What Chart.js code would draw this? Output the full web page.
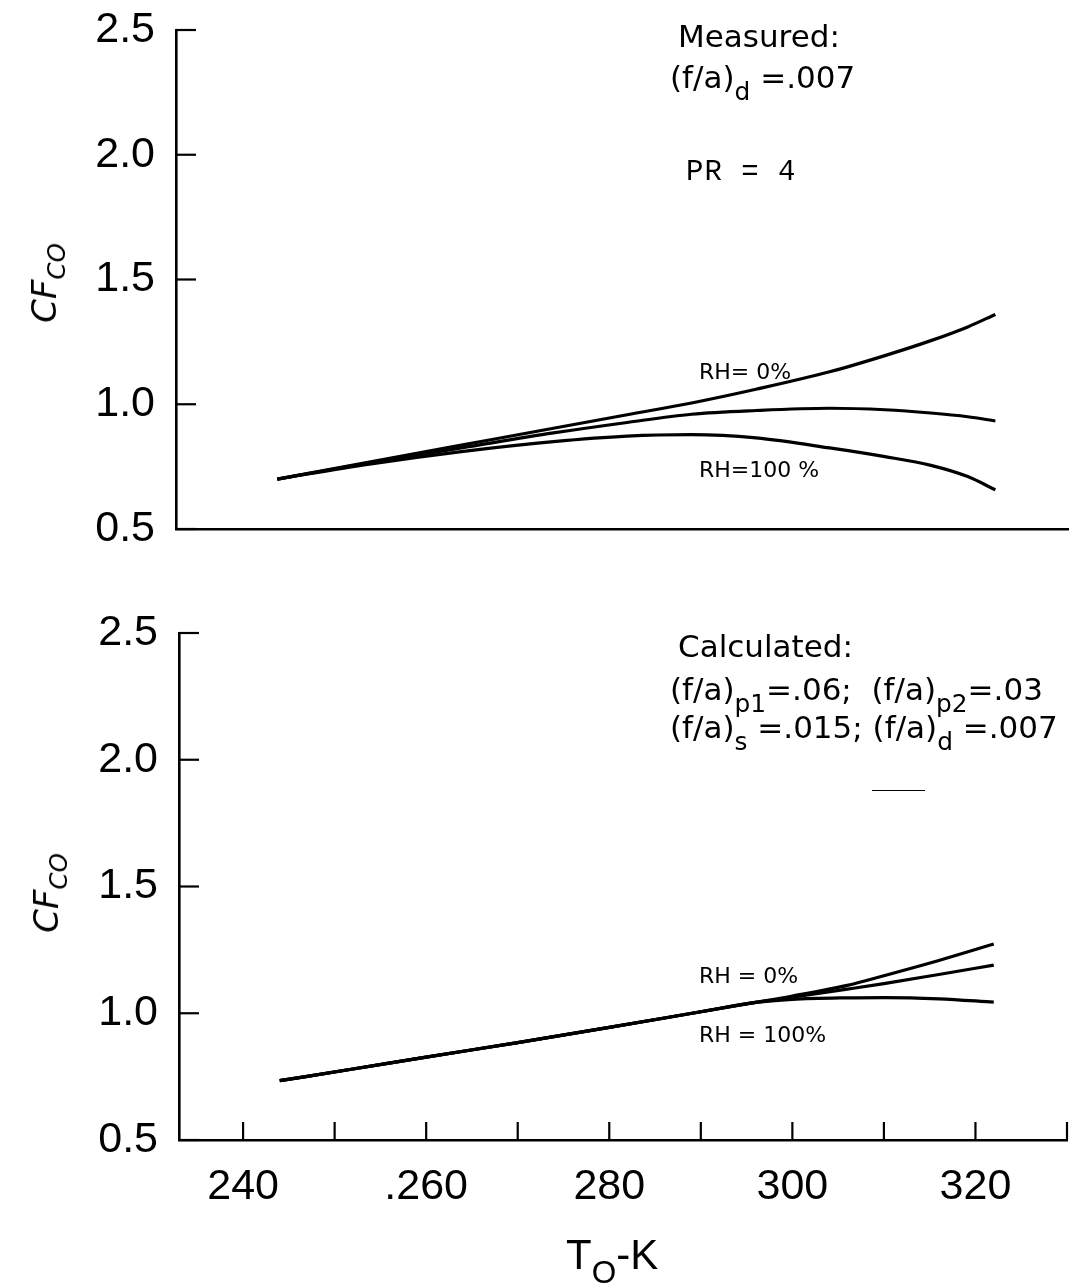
<!DOCTYPE html>
<html>
<head>
<meta charset="utf-8">
<script src="https://cdn.jsdelivr.net/npm/chart.js@4.4.1/dist/chart.umd.min.js"></script>
<style>
  html, body { margin: 0; padding: 0; background: #fff; }
  body { width: 1069px; height: 1287px; position: relative; overflow: hidden; color: #000; }
  canvas { position: absolute; left: 0; }
  #topChart { top: -20px; }
  #botChart { top: 583px; }
  .t { position: absolute; white-space: nowrap; line-height: 1; font-family: "DejaVu Sans", sans-serif; font-size: 31px; }
  .rh { font-size: 22px; }
  .mono { font-family: "Liberation Mono", "DejaVu Sans Mono", monospace; font-size: 29px; letter-spacing: 1px; }
  .t sub { font-size: 0.8em; vertical-align: -0.5em; line-height: 0; }
  .ytitle { position: absolute; white-space: nowrap; line-height: 1; font-family: "DejaVu Sans", sans-serif; font-style: italic; font-size: 34px; transform: translate(-50%, -50%) rotate(-90deg); }
  .ytitle sub { font-size: 0.72em; vertical-align: -0.35em; line-height: 0; }
  .xtitle { position: absolute; white-space: nowrap; line-height: 1; font-family: "Liberation Sans", Arial, sans-serif; font-size: 42px; }
  .xtitle sub { font-size: 0.75em; vertical-align: -0.45em; line-height: 0; }
  .stub { position: absolute; border-top: 1.6px solid #000; }
</style>
</head>
<body>
<canvas id="topChart" width="1069" height="610"></canvas>
<canvas id="botChart" width="1100" height="704"></canvas>

<div class="ytitle" style="left:44px; top:283px;">CF<sub>CO</sub></div>
<div class="ytitle" style="left:46px; top:893px;">CF<sub>CO</sub></div>

<div class="t" style="left:678px; top:21px;">Measured:</div>
<div class="t" style="left:670px; top:62px;">(f/a)<sub>d</sub> =.007</div>
<div class="t mono" style="left:686px; top:158px;">PR = 4</div>
<div class="t rh" style="left:699px; top:361px;">RH= 0%</div>
<div class="t rh" style="left:699px; top:459px;">RH=100 %</div>

<div class="t" style="left:678px; top:631px;">Calculated:</div>
<div class="t" style="left:670px; top:674px;">(f/a)<sub>p1</sub>=.06;&nbsp; (f/a)<sub>p2</sub>=.03</div>
<div class="t" style="left:670px; top:712px;">(f/a)<sub>s</sub> =.015; (f/a)<sub>d</sub> =.007</div>
<div class="stub" style="left:872px; top:790px; width:53px;"></div>
<div class="t rh" style="left:699px; top:965px;">RH = 0%</div>
<div class="t rh" style="left:699px; top:1024px;">RH = 100%</div>

<div class="xtitle" style="left:566px; top:1234px;">T<sub>O</sub>-K</div>

<script>
// ---------------- data ----------------
const xTickValues = [240, 250, 260, 270, 280, 290, 300, 310, 320, 330];
const xTickLabels = ['240', '', '.260', '', '280', '', '300', '', '320', ''];
const yTickValues = [0.5, 1.0, 1.5, 2.0, 2.5];
const yTickLabels = ['0.5', '1.0', '1.5', '2.0', '2.5'];

// Measured, PR = 4
const tempMeasured  = [244, 254, 264, 274, 282, 289, 296, 304, 310, 315, 319, 322];
const measuredRH0   = [0.700, 0.768, 0.836, 0.904, 0.958, 1.005, 1.060, 1.130, 1.195, 1.255, 1.310, 1.360];
const measuredMid   = [0.700, 0.765, 0.825, 0.885, 0.927, 0.960, 0.975, 0.984, 0.978, 0.965, 0.950, 0.933];
const measuredRH100 = [0.700, 0.760, 0.810, 0.850, 0.872, 0.878, 0.865, 0.825, 0.790, 0.755, 0.710, 0.657];

// Calculated
const tempCalculated = [244, 252, 260, 270, 280, 290, 296, 300, 306, 310, 316, 322];
const calcRH0   = [0.734, 0.780, 0.827, 0.884, 0.944, 1.006, 1.043, 1.068, 1.110, 1.148, 1.208, 1.273];
const calcMid   = [0.734, 0.780, 0.827, 0.884, 0.944, 1.006, 1.043, 1.063, 1.095, 1.117, 1.153, 1.190];
const calcRH100 = [0.734, 0.780, 0.827, 0.884, 0.944, 1.006, 1.043, 1.055, 1.061, 1.062, 1.057, 1.044];

// ---------------- drawing ----------------
const inwardTicks = {
  id: 'inwardTicks',
  afterDatasetsDraw(chart, args, opts) {
    const { ctx, chartArea: a } = chart;
    ctx.save();
    ctx.strokeStyle = '#000';
    ctx.lineWidth = 2.2;
    const ys = chart.scales.y;
    ys.ticks.forEach(t => {
      const py = ys.getPixelForValue(t.value);
      ctx.beginPath(); ctx.moveTo(a.left, py); ctx.lineTo(a.left + opts.yLen, py); ctx.stroke();
    });
    if (opts.xLen) {
      const xs = chart.scales.x;
      xs.ticks.forEach(t => {
        const px = xs.getPixelForValue(t.value);
        ctx.beginPath(); ctx.moveTo(px, a.bottom); ctx.lineTo(px, a.bottom - opts.xLen); ctx.stroke();
      });
    }
    ctx.restore();
  }
};

const tickFont = { family: '"Liberation Sans", Arial, sans-serif', size: 43 };

function makePanel(id, temps, seriesList, showX, area, W, H) {
  return new Chart(document.getElementById(id), {
    type: 'line',
    data: {
      datasets: seriesList.map(s => ({
        data: temps.map((t, i) => ({ x: t, y: s[i] })),
        borderColor: '#000',
        borderWidth: 3.2,
        pointRadius: 0,
        fill: false,
        cubicInterpolationMode: 'monotone'
      }))
    },
    options: {
      responsive: false,
      animation: false,
      devicePixelRatio: 1,
      layout: { padding: { top: area.top, right: W - area.right, left: 0, bottom: 0 } },
      plugins: {
        legend: { display: false },
        tooltip: { enabled: false },
        inwardTicks: { yLen: 20, xLen: showX ? 18 : 0 }
      },
      scales: {
        x: {
          type: 'linear', min: 233, max: 330,
          afterBuildTicks: s => { s.ticks = xTickValues.map(v => ({ value: v })); },
          afterFit: s => { s.height = H - area.bottom; },
          grid: { display: false, drawTicks: false },
          border: { display: true, color: '#000', width: 2.6 },
          ticks: {
            display: showX, autoSkip: false, maxRotation: 0, padding: 21,
            color: '#000', font: tickFont,
            callback: (v, i) => xTickLabels[i]
          }
        },
        y: {
          type: 'linear', min: 0.5, max: 2.5,
          afterBuildTicks: s => { s.ticks = yTickValues.map(v => ({ value: v })); },
          afterFit: s => { s.width = area.left; },
          grid: { display: false, drawTicks: false },
          border: { display: true, color: '#000', width: 2.6 },
          ticks: {
            padding: 21, color: '#000', font: tickFont,
            callback: (v, i) => yTickLabels[i]
          }
        }
      }
    },
    plugins: [inwardTicks]
  });
}

// canvas top is at page y = -20 (top panel) and 583 (bottom panel)
makePanel('topChart', tempMeasured, [measuredRH0, measuredMid, measuredRH100], false,
  { top: 50, bottom: 549, left: 176, right: 1069 }, 1069, 610);
makePanel('botChart', tempCalculated, [calcRH0, calcMid, calcRH100], true,
  { top: 50, bottom: 557, left: 179, right: 1067 }, 1100, 704);
</script>
</body>
</html>
